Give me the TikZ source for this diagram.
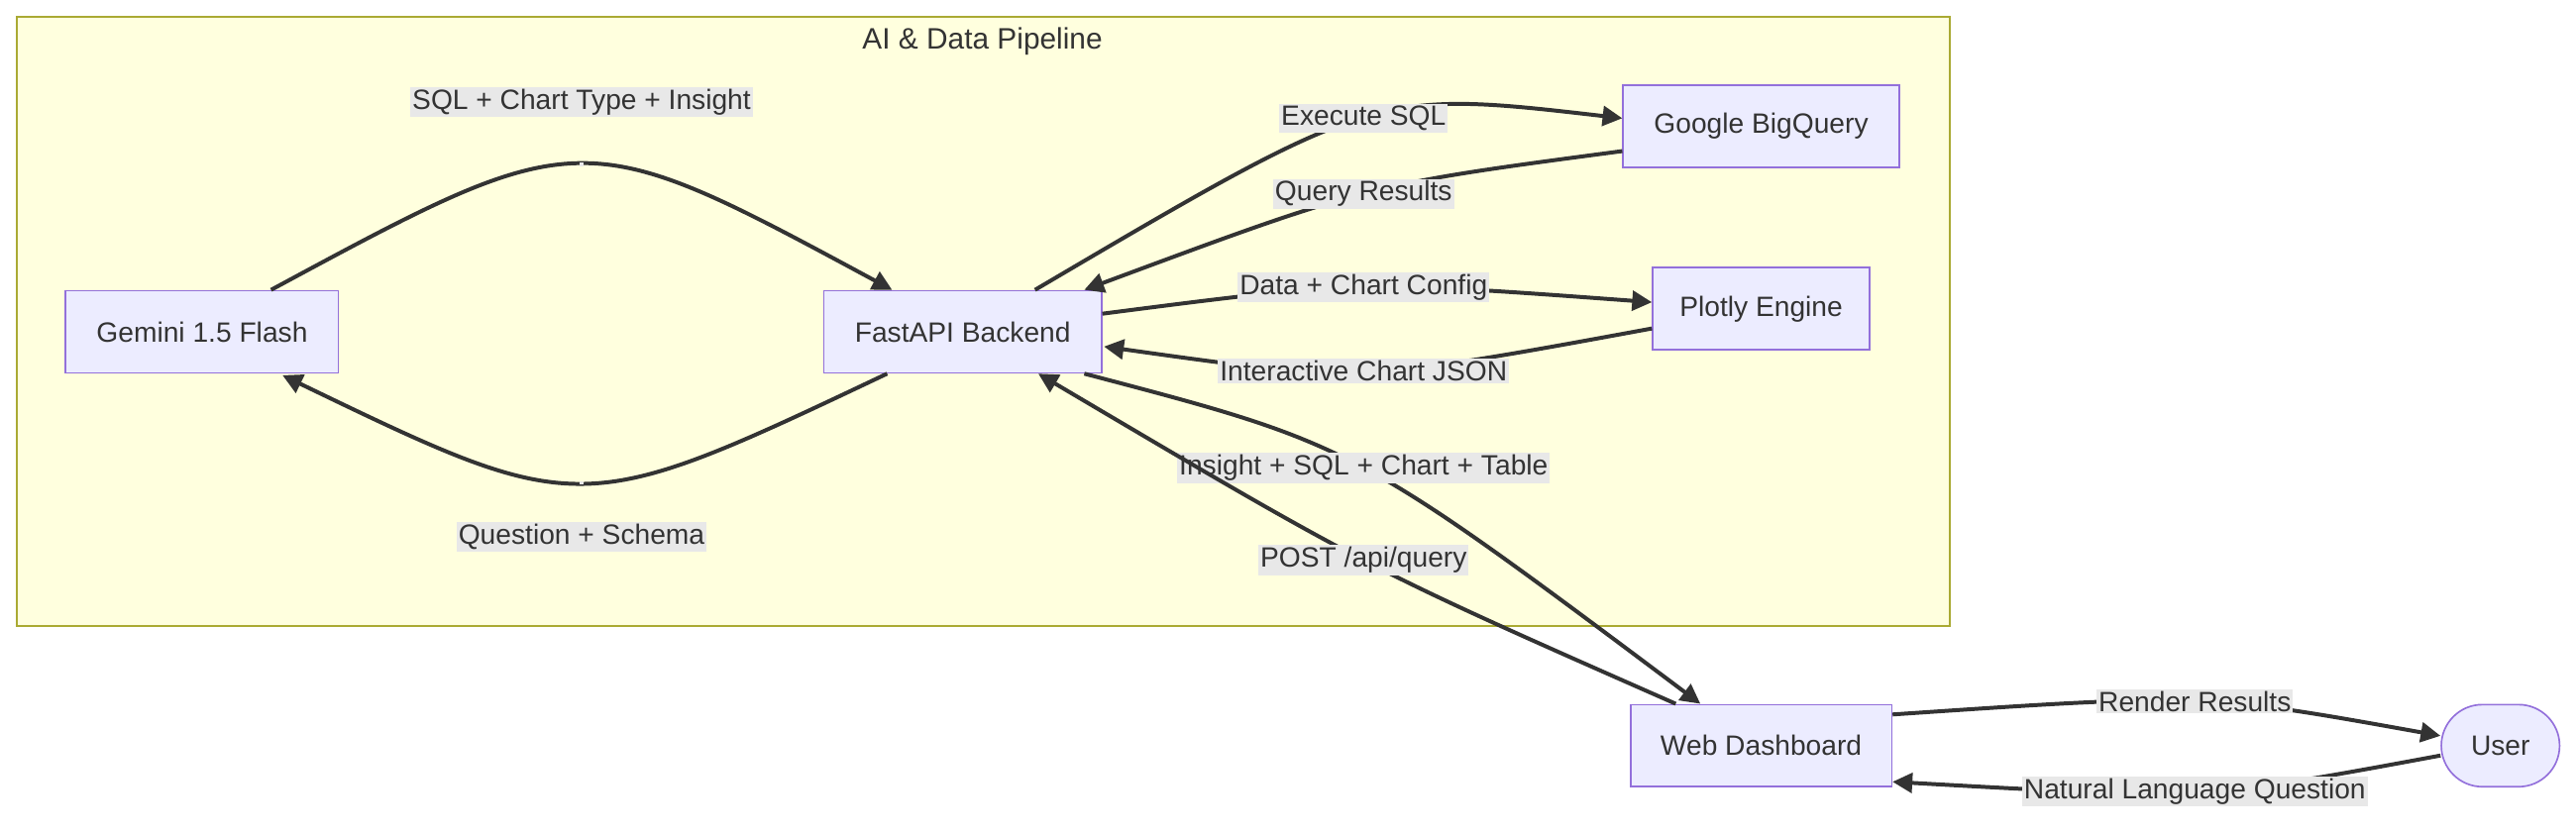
\documentclass[tikz,border=0pt]{standalone}
\usepackage{fontspec}
\setmainfont{Liberation Sans}
\usetikzlibrary{calc,arrows.meta,shapes.misc}
\definecolor{nodefill}{HTML}{ECECFF}
\definecolor{nodeline}{HTML}{9370DB}
\definecolor{clfill}{HTML}{FFFFDE}
\definecolor{clline}{HTML}{AAAA33}
\definecolor{edgec}{HTML}{333333}
\definecolor{lblfill}{HTML}{E8E8E8}
\definecolor{txt}{HTML}{333333}
\tikzset{
  box/.style={draw=nodeline,fill=nodefill,line width=0.5pt,minimum height=25pt,inner sep=0pt,text=txt,font=\fontsize{8.5}{10}\selectfont},
  edge/.style={draw=edgec,line width=1.2pt,-{Triangle[length=6pt,width=6pt]}},
  lbl/.style={fill=lblfill,inner sep=0.6pt,text=txt,font=\fontsize{8.5}{10}\selectfont}
}
\newcommand\mycurve[4]{%
  \coordinate (mm) at #2;
  \draw[edge] #1 .. controls ($1.3333*(mm)-0.16667*#1-0.16667*#3$) .. #3;
  \node[lbl] at (mm) {#4};}
\begin{document}
\begin{tikzpicture}[x=0.5pt,y=-0.5pt]
\useasboundingbox (0,0) rectangle (1568,508);
\draw[draw=clline,fill=clfill,line width=0.6pt] (10,10) rectangle (1187,381);
\node[text=txt,font=\fontsize{9}{10}\selectfont] (title) at (598,25) {AI \& Data Pipeline};
\node[box,minimum width=83pt] (gem) at (123,202) {Gemini 1.5 Flash};
\node[box,minimum width=84.5pt] (fa) at (586,202) {FastAPI Backend};
\node[box,minimum width=84pt] (bq) at (1072,77) {Google BigQuery};
\node[box,minimum width=66pt] (pl) at (1072,188) {Plotly Engine};
\node[box,minimum width=79.5pt] (wd) at (1072,454) {Web Dashboard};
\node[box,rounded rectangle,minimum width=36pt] (user) at (1522,454) {User};
\mycurve{($(gem.north)+(42,0)$)}{(354,100)}{($(fa.north)+(-43,0)$)}{}
\node[lbl] (l1) at (354,62) {SQL + Chart Type + Insight};
\mycurve{($(fa.south)+(-46,0)$)}{(354,294)}{($(gem.south)+(49,1)$)}{}
\node[lbl] (l2) at (354,327) {Question + Schema};
\mycurve{($(fa.north)+(44,0)$)}{(830,72)}{($(bq.west)+(0,-5)$)}{Execute SQL}
\mycurve{($(bq.west)+(0,15)$)}{(830,118)}{($(fa.north)+(74,0)$)}{Query Results}
\mycurve{($(fa.east)+(0,-11)$)}{(830,175)}{($(pl.west)+(0,-4)$)}{Data + Chart Config}
\mycurve{($(pl.west)+(0,12)$)}{(830,226)}{($(fa.east)+(1,9)$)}{Interactive Chart JSON}
\mycurve{($(fa.south)+(74,0)$)}{(830,285)}{($(wd.north)+(-37,0)$)}{Insight + SQL + Chart + Table}
\mycurve{($(wd.north)+(-52,0)$)}{(830,341)}{($(fa.south)+(46,0)$)}{POST /api/query}
\mycurve{($(wd.east)+(0,-19)$)}{(1336,427)}{($(user.west)+(0,-6)$)}{Render Results}
\mycurve{($(user.west)+(0,6)$)}{(1336,482)}{($(wd.east)+(0,22)$)}{Natural Language Question}
\end{tikzpicture}
\end{document}
